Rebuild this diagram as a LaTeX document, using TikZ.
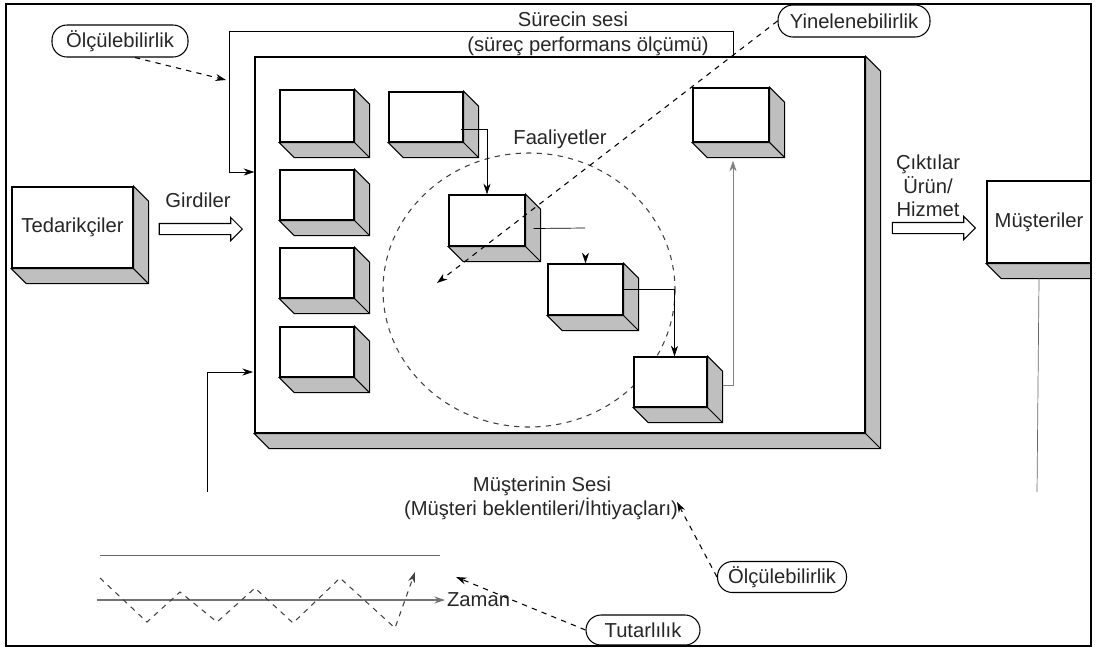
\documentclass[tikz,border=0pt]{standalone}
\usepackage{fontspec}
\setmainfont{Liberation Sans}
\usetikzlibrary{arrows.meta, shapes.arrows, calc}

% 3B kutu: ad, merkez, genislik, yukseklik (piksel), metin
\newcommand{\kutu}[5]{%
  \node[kutubox, minimum width=#3*0.02cm, minimum height=#4*0.02cm] (#1) at (#2) {#5};
  \filldraw[golge] (#1.north east) -- ++(15,15) -- ($(#1.south east)+(15,15)$)
    -- ($(#1.south west)+(15,15)$) -- (#1.south west) -- (#1.south east) -- cycle;
  \draw[golge] (#1.south east) -- ++(15,15);
  \draw[thick] (#1.north west) rectangle (#1.south east);
}

\begin{document}
\begin{tikzpicture}[x=0.02cm, y=-0.02cm, >={Stealth[length=6pt,width=4pt]},
  font=\fontsize{11.5}{13.5}\selectfont, text=black!85,
  kutubox/.style={draw, thick, fill=white, inner sep=0pt},
  golge/.style={fill=black!25, draw=black, semithick},
  etiket/.style={draw, semithick, rounded corners=0.3cm, fill=white, inner sep=0pt},
  bosok/.style={single arrow, draw, semithick, inner sep=0.1cm, minimum height=1.66cm,
    single arrow head extend=0.12cm, anchor=center},
  not/.style={dashed, semithick, ->}]
  \useasboundingbox (0,0) rectangle (1097,650);

  % Surec
  \kutu{surec}{560,245}{610}{376}{}
  \draw[dashed, semithick, black!75] (529,290) ellipse (146 and 137);
  \node (faaliyet) at (560,139) {Faaliyetler};

  % Kutular
  \kutu{k11}{317,116}{74}{52}{}
  \kutu{k12}{317,195}{74}{50}{}
  \kutu{k13}{317,273}{74}{50}{}
  \kutu{k14}{317,352}{74}{50}{}
  \kutu{k21}{426,117}{74}{50}{}
  \kutu{kA}{487,220.5}{76}{51}{}
  \kutu{kB}{585.5,289.5}{75}{51}{}
  \kutu{kC}{670.5,382}{73}{50}{}
  \kutu{kD}{731,115}{76}{54}{}

  % Akis
  \draw[->] ($(k21.east)+(-3,12)$) -| (kA.north);
  \coordinate (aUc) at (585,228);
  \draw ($(kA.east)+(8,8)$) -- (aUc);
  \draw[->] ($(kB.north)+(0,-7)$) -- (kB.north);
  \draw[->] (kB.east) -| ($(kC.north)+(4,0)$);
  \draw[->, black!50] ($(kC.east)+(15,3)$) -| ($(kD.south)+(2,18)$);

  % Surecin sesi
  \coordinate (k1) at (733,31);
  \coordinate (k2) at (229,31);
  \coordinate (k3) at (229,172);
  \draw[->] (k1 |- surec.north) -- (k1) -- (k2) -- (k3) -- (k3 -| surec.west);
  \node (ses) at (573,19) {Sürecin sesi};
  \node (olcum) at (588,46) {(süreç performans ölçümü)};

  % Tedarikci ve musteri
  \kutu{tedarik}{72.5,227.5}{121}{81}{Tedarikçiler}
  \node[bosok] (girdi) at (198,229) {};
  \node (girdiler) at (198,200) {Girdiler};
  \begin{scope}
    \clip (6,4) rectangle (1091,646);
    \kutu{musteri}{1039,222}{104}{82}{Müşteriler}
  \end{scope}
  \node[bosok] (cikti) at (931,228) {};
  \node[align=center] (ciktilar) at (928,186) {Çıktılar\\Ürün/\\Hizmet};

  % Musterinin sesi
  \coordinate (mAlt) at (1037,492);
  \draw[black!60] (musteri.south |- 0,278) -- (mAlt);
  \coordinate (sAlt) at (207,492);
  \coordinate (sGiris) at (253,372);
  \draw[->] (sAlt) |- (sGiris);
  \node (musses) at (542,486) {Müşterinin Sesi};
  \node (musbek) at (541,509) {(Müşteri beklentileri/İhtiyaçları)};

  % Zaman grafigi
  \draw[black!60] (100,555) -- (440,555);
  \node[right, inner sep=1pt] (zaman) at (445,600) {Zaman};
  \coordinate (eksen) at (97,600);
  \draw[black!55, thick, ->] (eksen) -- (zaman.west);
  \draw[dashed, semithick, black!75, ->] (100,578) -- (147,622) -- (180,592) -- (217,622) -- (255,588)
    -- (293,623) -- (340,578) -- (395,628) -- (415,572);

  % Etiketler
  \node[etiket, minimum width=136*0.02cm, minimum height=32*0.02cm] (olcu1) at (120,41) {Ölçülebilirlik};
  \coordinate (olcuUc) at (226,80);
  \draw[not] ($(olcu1.south)+(15,0)$) -- (olcuUc);
  \node[etiket, minimum width=152*0.02cm, minimum height=32*0.02cm] (yinele) at (854,21) {Yinelenebilirlik};
  \coordinate (merkez) at (437,283);
  \draw[not] (yinele.west) -- (merkez);
  \node[etiket, minimum width=129*0.02cm, minimum height=31*0.02cm] (olcu2) at (782,577) {Ölçülebilirlik};
  \coordinate (bekUc) at (677,502);
  \draw[not] (olcu2.west) -- (bekUc);
  \node[etiket, minimum width=114*0.02cm, minimum height=30*0.02cm] (tutar) at (643,630) {Tutarlılık};
  \coordinate (tutUc) at (456,577);
  \draw[not] (tutar.west) -- (tutUc);

  % Cerceve
  \draw[line width=1.6pt] (6,4) rectangle (1091,646);
\end{tikzpicture}
\end{document}
